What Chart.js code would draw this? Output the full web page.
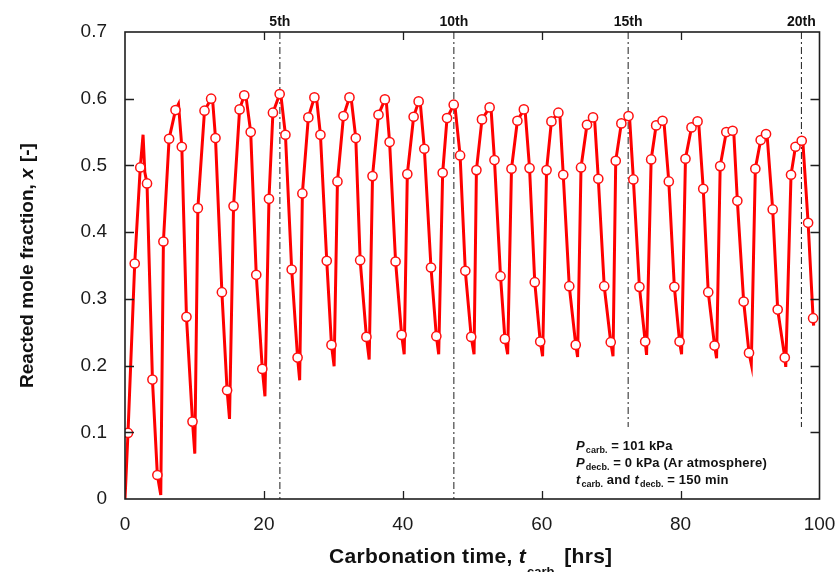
<!DOCTYPE html>
<html><head><meta charset="utf-8">
<script src="https://cdn.jsdelivr.net/npm/chart.js@4/dist/chart.umd.min.js"></script>
<style>html,body{margin:0;padding:0;background:#fff;}canvas{display:block;}</style>
</head><body>
<canvas id="c" width="837" height="572"></canvas>
<script>
// ---- data ----
const markerTime = [
 0.43,1.40,2.20,3.17,3.95,4.66,
 5.53,6.35,7.27,8.18,8.85,9.72,
 10.49,11.45,12.40,13.03,13.95,14.70,
 15.63,16.50,17.17,18.10,18.90,19.77,
 20.73,21.30,22.27,23.10,24.00,24.85,
 25.54,26.40,27.27,28.14,29.05,29.73,
 30.59,31.46,32.32,33.23,33.86,34.76,
 35.64,36.50,37.42,38.10,38.96,39.83,
 40.65,41.56,42.28,43.10,44.06,44.83,
 45.74,46.37,47.33,48.25,49.00,49.85,
 50.60,51.40,52.50,53.20,54.07,54.70,
 55.65,56.50,57.43,58.25,59.00,59.79,
 60.70,61.40,62.40,63.10,63.97,64.90,
 65.66,66.52,67.39,68.15,69.00,69.94,
 70.66,71.47,72.50,73.20,74.07,74.90,
 75.76,76.48,77.40,78.30,79.10,79.85,
 80.70,81.57,82.44,83.26,83.98,84.89,
 85.70,86.58,87.49,88.17,89.08,89.85,
 90.76,91.53,92.30,93.26,93.98,95.00,
 95.90,96.54,97.44,98.36,99.08
];
const markerFraction = [
 0.099,0.353,0.497,0.473,0.179,0.036,
 0.386,0.540,0.583,0.528,0.273,0.116,
 0.436,0.582,0.600,0.541,0.310,0.163,
 0.439,0.584,0.605,0.550,0.336,0.195,
 0.450,0.579,0.607,0.546,0.344,0.212,
 0.458,0.572,0.602,0.546,0.357,0.231,
 0.476,0.574,0.602,0.541,0.358,0.243,
 0.484,0.576,0.599,0.535,0.356,0.246,
 0.487,0.573,0.596,0.525,0.347,0.244,
 0.489,0.571,0.591,0.515,0.342,0.243,
 0.493,0.569,0.587,0.508,0.334,0.240,
 0.495,0.567,0.584,0.496,0.325,0.236,
 0.493,0.566,0.579,0.486,0.319,0.231,
 0.497,0.561,0.572,0.480,0.319,0.235,
 0.507,0.563,0.574,0.479,0.318,0.236,
 0.509,0.560,0.567,0.476,0.318,0.236,
 0.510,0.557,0.566,0.465,0.310,0.230,
 0.499,0.550,0.552,0.447,0.296,0.219,
 0.495,0.538,0.547,0.434,0.284,0.212,
 0.486,0.528,0.537,0.414,0.271
];
const lineTime = [
 0,
 0.43,1.40,2.20,2.60,2.85,3.17,3.95,4.66,5.15,
 5.53,6.35,7.27,7.70,8.18,8.85,9.72,10.05,
 10.49,11.45,12.40,12.60,13.03,13.95,14.70,15.05,
 15.63,16.50,17.17,17.40,18.10,18.90,19.77,20.15,
 20.73,21.30,22.27,22.45,23.10,24.00,24.85,25.15,
 25.54,26.40,27.27,27.55,28.14,29.05,29.73,30.11,
 30.59,31.46,32.32,32.55,33.23,33.86,34.76,35.16,
 35.64,36.50,37.42,37.60,38.10,38.96,39.83,40.20,
 40.65,41.56,42.28,42.50,43.10,44.06,44.83,45.17,
 45.74,46.37,47.33,47.50,48.25,49.00,49.85,50.26,
 50.60,51.40,52.50,52.70,53.20,54.07,54.70,55.10,
 55.65,56.50,57.43,57.60,58.25,59.00,59.79,60.13,
 60.70,61.40,62.40,62.60,63.10,63.97,64.90,65.17,
 65.66,66.52,67.39,67.60,68.15,69.00,69.94,70.27,
 70.66,71.47,72.50,72.65,73.20,74.07,74.90,75.10,
 75.76,76.48,77.40,77.60,78.30,79.10,79.85,80.14,
 80.70,81.57,82.44,82.60,83.26,83.98,84.89,85.18,
 85.70,86.58,87.49,87.65,88.17,89.08,89.85,90.18,
 90.76,91.53,92.30,92.45,93.26,93.98,95.00,95.14,
 95.90,96.54,97.44,97.60,98.36,99.08,99.15
];
const lineFraction = [
 0,
 0.099,0.353,0.497,0.546,0.490,0.473,0.179,0.036,0.006,
 0.386,0.540,0.583,0.592,0.528,0.273,0.116,0.068,
 0.436,0.582,0.600,0.600,0.541,0.310,0.163,0.120,
 0.439,0.584,0.605,0.605,0.550,0.336,0.195,0.154,
 0.450,0.579,0.607,0.605,0.546,0.344,0.212,0.178,
 0.458,0.572,0.602,0.604,0.546,0.357,0.231,0.199,
 0.476,0.574,0.602,0.602,0.541,0.358,0.243,0.209,
 0.484,0.576,0.599,0.599,0.535,0.356,0.246,0.217,
 0.487,0.573,0.596,0.596,0.525,0.347,0.244,0.217,
 0.489,0.571,0.591,0.590,0.515,0.342,0.243,0.217,
 0.493,0.569,0.587,0.586,0.508,0.334,0.240,0.217,
 0.495,0.567,0.584,0.584,0.496,0.325,0.236,0.214,
 0.493,0.566,0.579,0.579,0.486,0.319,0.231,0.213,
 0.497,0.561,0.572,0.572,0.480,0.319,0.235,0.214,
 0.507,0.563,0.574,0.572,0.479,0.318,0.236,0.216,
 0.509,0.560,0.567,0.566,0.476,0.318,0.236,0.217,
 0.510,0.557,0.566,0.565,0.465,0.310,0.230,0.211,
 0.499,0.550,0.552,0.551,0.447,0.296,0.219,0.202,
 0.495,0.538,0.547,0.546,0.434,0.284,0.212,0.198,
 0.486,0.528,0.537,0.536,0.414,0.271,0.260
];
const xTickValues = [0,20,40,60,80,100];
const xTickLabels = ['0','20','40','60','80','100'];
const yTickValues = [0,0.1,0.2,0.3,0.4,0.5,0.6,0.7];
const yTickLabels = ['0','0.1','0.2','0.3','0.4','0.5','0.6','0.7'];
const cycleMarkTime = [22.3,47.35,72.45,97.4];
const cycleMarkBottom = [0,0,0.108,0.108];
const cycleMarkLabels = ['5th','10th','15th','20th'];
const xTitleRuns = [['Carbonation time, ','b'],['t','bi'],['carb.','sub'],[' [hrs]','b']];
const yTitleRuns = [['Reacted mole fraction, ','b'],['x','bi'],[' [-]','b']];
const noteLines = [
 [['P','bi'],['carb.','sub'],[' = 101 kPa','b']],
 [['P','bi'],['decb.','sub'],[' = 0 kPa (Ar atmosphere)','b']],
 [['t','bi'],['carb.','sub'],[' and ','b'],['t','bi'],['decb.','sub'],[' = 150 min','b']]
];

// ---- drawing ----
const FAM = '"Liberation Sans", Arial, Helvetica, sans-serif';
function runFont(kind, size, subSize){
  if(kind==='bi') return 'italic bold '+size+'px '+FAM;
  if(kind==='sub') return 'bold '+subSize+'px '+FAM;
  return 'bold '+size+'px '+FAM;
}
function drawRuns(ctx, runs, x, y, size, subSize, subDy, spacing){
  ctx.textBaseline='alphabetic'; ctx.textAlign='left';
  runs.forEach(([t,k])=>{
    ctx.font = runFont(k,size,subSize);
    ctx.letterSpacing = (k==='sub'?0:spacing)+'px';
    ctx.fillText(t, x, k==='sub'? y+subDy : y);
    x += ctx.measureText(t).width + (k==='bi'?1:0);
  });
  ctx.letterSpacing='0px';
  return x;
}
function runsWidth(ctx, runs, size, subSize, spacing){
  let w=0;
  runs.forEach(([t,k])=>{ctx.font=runFont(k,size,subSize);ctx.letterSpacing=(k==='sub'?0:spacing)+'px';w+=ctx.measureText(t).width+(k==='bi'?1:0);});
  ctx.letterSpacing='0px';
  return w;
}

const decor = {
  id:'decor',
  afterDatasetsDraw(chart){
    const {ctx, chartArea:a, scales:{x,y}} = chart;
    ctx.save();
    ctx.strokeStyle='#1e1e1e'; ctx.lineWidth=1.6;
    ctx.strokeRect(a.left, a.top, a.right-a.left, a.bottom-a.top);
    ctx.beginPath();
    xTickValues.forEach(v=>{
      if(v<=x.min||v>=x.max) return;
      const p=Math.round(x.getPixelForValue(v))+0.5;
      ctx.moveTo(p,a.bottom); ctx.lineTo(p,a.bottom-8);
      ctx.moveTo(p,a.top); ctx.lineTo(p,a.top+8);
    });
    yTickValues.forEach(v=>{
      if(v<=y.min||v>=y.max) return;
      const p=Math.round(y.getPixelForValue(v))+0.5;
      ctx.moveTo(a.left,p); ctx.lineTo(a.left+9,p);
      ctx.moveTo(a.right,p); ctx.lineTo(a.right-9,p);
    });
    ctx.lineWidth=1.3; ctx.stroke();
    // cycle labels
    ctx.fillStyle='#111'; ctx.font='bold 14px '+FAM; ctx.textAlign='center'; ctx.textBaseline='alphabetic';
    cycleMarkTime.forEach((t,i)=>ctx.fillText(cycleMarkLabels[i], x.getPixelForValue(t), a.top-6));
    // note
    noteLines.forEach((runs,i)=>drawRuns(ctx, runs, 576, 449.5+i*17.4, 13, 9, 3, 0.2));
    // x title
    drawRuns(ctx, xTitleRuns, 329, 563, 21, 13, 13, 0.3);
    // y title
    ctx.translate(33, (a.top+a.bottom)/2);
    ctx.rotate(-Math.PI/2);
    const w = runsWidth(ctx, yTitleRuns, 19, 13, 0);
    drawRuns(ctx, yTitleRuns, -w/2, 0, 19, 13, 4, 0);
    ctx.restore();
  }
};

const datasets = [
  { label:'markers', data: markerTime.map((t,i)=>({x:t,y:markerFraction[i]})),
    showLine:false, pointRadius:4.6, pointBorderWidth:1.5, pointBorderColor:'#ff1010',
    pointBackgroundColor:'#ffffff', pointStyle:'circle', order:0 },
  { label:'line', data: lineTime.map((t,i)=>({x:t,y:lineFraction[i]})),
    borderColor:'#ff0000', borderWidth:3, pointRadius:0, tension:0, order:1 }
];
cycleMarkTime.forEach((t,i)=>datasets.push({
  label:cycleMarkLabels[i], data:[{x:t,y:0.7},{x:t,y:cycleMarkBottom[i]}],
  borderColor:'#333', borderWidth:1.1, borderDash:[7,3,2,3], pointRadius:0, order:2
}));

new Chart(document.getElementById('c'), {
  type:'line',
  data:{datasets},
  options:{
    responsive:false, animation:false, devicePixelRatio:1,
    layout:{padding:{top:32,right:17.5,left:0,bottom:0}},
    plugins:{legend:{display:false},tooltip:{enabled:false}},
    scales:{
      x:{type:'linear',min:0,max:100,
        afterFit(s){s.height=73;s.paddingLeft=0;s.paddingRight=0;},
        afterBuildTicks(s){s.ticks=xTickValues.map(v=>({value:v}));},
        grid:{display:false,drawTicks:false}, border:{display:false},
        ticks:{padding:14,color:'#1a1a1a',font:{family:FAM,size:19},maxRotation:0,
          callback:(v)=>xTickLabels[xTickValues.indexOf(v)]}},
      y:{type:'linear',min:0,max:0.7,
        afterFit(s){s.width=125;s.paddingTop=0;s.paddingBottom=0;},
        afterBuildTicks(s){s.ticks=yTickValues.map(v=>({value:v}));},
        grid:{display:false,drawTicks:false}, border:{display:false},
        ticks:{padding:18,color:'#1a1a1a',font:{family:FAM,size:19},
          callback:(v)=>{const i=yTickValues.findIndex(q=>Math.abs(q-v)<1e-9);return yTickLabels[i];}}}
    }
  },
  plugins:[decor]
});
</script>
</body></html>
